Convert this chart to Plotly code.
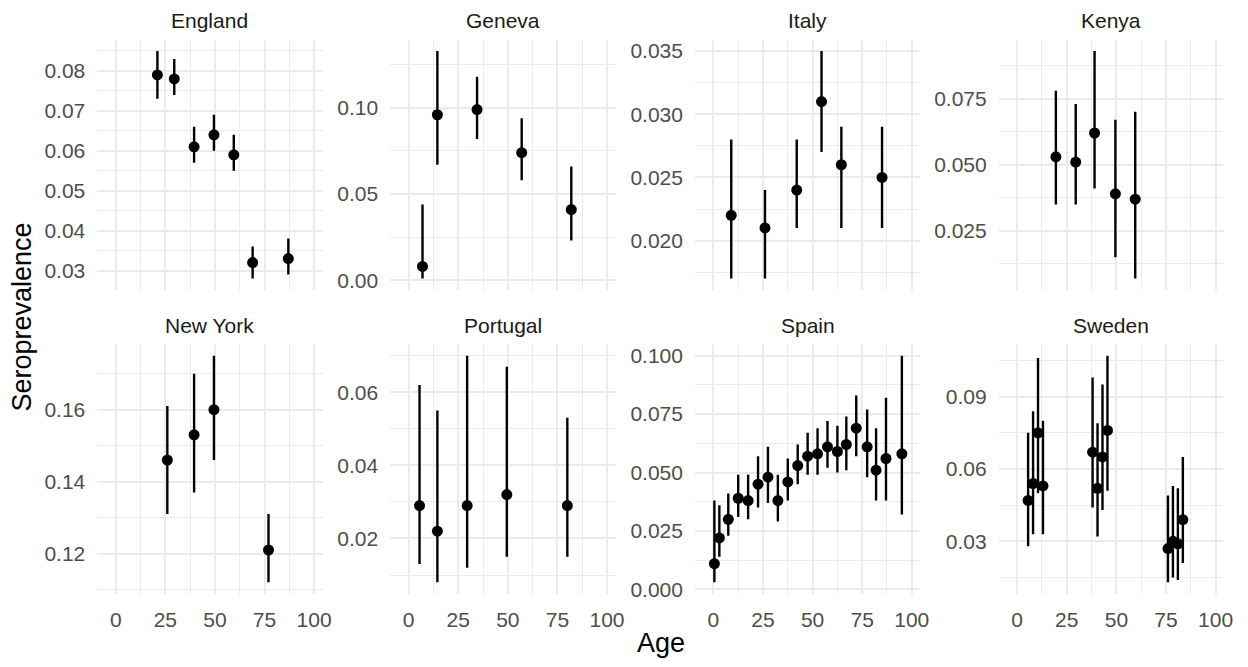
import plotly.graph_objects as go

# ---------------- data ----------------
countries = ["England", "Geneva", "Italy", "Kenya", "New York", "Portugal", "Spain", "Sweden"]

england_age = [21, 29.5, 39.5, 49.5, 59.5, 69, 87]
england_est = [0.079, 0.078, 0.061, 0.064, 0.059, 0.032, 0.033]
england_lo = [0.073, 0.074, 0.057, 0.060, 0.055, 0.028, 0.029]
england_hi = [0.085, 0.083, 0.066, 0.069, 0.064, 0.036, 0.038]

geneva_age = [7, 14.5, 34.5, 57, 82]
geneva_est = [0.008, 0.096, 0.099, 0.074, 0.041]
geneva_lo = [0.001, 0.067, 0.082, 0.058, 0.023]
geneva_hi = [0.044, 0.133, 0.118, 0.094, 0.066]

italy_age = [9, 26, 42, 54.5, 64.5, 85]
italy_est = [0.022, 0.021, 0.024, 0.031, 0.026, 0.025]
italy_lo = [0.017, 0.017, 0.021, 0.027, 0.021, 0.021]
italy_hi = [0.028, 0.024, 0.028, 0.035, 0.029, 0.029]

kenya_age = [19.5, 29.5, 39, 49.5, 59.5]
kenya_est = [0.053, 0.051, 0.062, 0.039, 0.037]
kenya_lo = [0.035, 0.035, 0.041, 0.015, 0.007]
kenya_hi = [0.078, 0.073, 0.093, 0.067, 0.070]

newyork_age = [26, 39.5, 49.5, 77]
newyork_est = [0.146, 0.153, 0.160, 0.121]
newyork_lo = [0.131, 0.137, 0.146, 0.112]
newyork_hi = [0.161, 0.170, 0.175, 0.131]

portugal_age = [5.5, 14.5, 29.5, 49.5, 80]
portugal_est = [0.029, 0.022, 0.029, 0.032, 0.029]
portugal_lo = [0.013, 0.008, 0.012, 0.015, 0.015]
portugal_hi = [0.062, 0.055, 0.070, 0.067, 0.053]

spain_age = [0.5, 3, 7.5, 12.5, 17.5, 22.5, 27.5, 32.5, 37.5, 42.5,
             47.5, 52.5, 57.5, 62.5, 67, 72, 77.5, 82, 87, 95]
spain_est = [0.011, 0.022, 0.030, 0.039, 0.038, 0.045, 0.048, 0.038, 0.046, 0.053,
             0.057, 0.058, 0.061, 0.059, 0.062, 0.069, 0.061, 0.051, 0.056, 0.058]
spain_lo = [0.003, 0.014, 0.023, 0.031, 0.030, 0.035, 0.037, 0.029, 0.038, 0.045,
            0.049, 0.049, 0.052, 0.050, 0.051, 0.057, 0.048, 0.038, 0.038, 0.032]
spain_hi = [0.038, 0.036, 0.041, 0.049, 0.049, 0.057, 0.061, 0.049, 0.056, 0.062,
            0.067, 0.069, 0.072, 0.070, 0.074, 0.083, 0.077, 0.069, 0.082, 0.100]

sweden_age = [5.5, 8, 10.5, 13, 38, 40.5, 43, 45.5, 76, 78.5, 81, 83.5]
sweden_est = [0.047, 0.054, 0.075, 0.053, 0.067, 0.052, 0.065, 0.076, 0.027, 0.030, 0.029, 0.039]
sweden_lo = [0.028, 0.033, 0.050, 0.033, 0.044, 0.032, 0.043, 0.051, 0.013, 0.015, 0.014, 0.021]
sweden_hi = [0.075, 0.084, 0.106, 0.080, 0.098, 0.079, 0.095, 0.107, 0.049, 0.053, 0.052, 0.065]

x_ticks = [0, 25, 50, 75, 100]
x_tick_labels = ["0", "25", "50", "75", "100"]

# y tick spacing / format per panel
y_dtick = [0.01, 0.05, 0.005, 0.025, 0.02, 0.02, 0.025, 0.03]
y_fmt = [".2f", ".2f", ".3f", ".3f", ".2f", ".2f", ".3f", ".2f"]

panels = [
    (england_age, england_est, england_lo, england_hi),
    (geneva_age, geneva_est, geneva_lo, geneva_hi),
    (italy_age, italy_est, italy_lo, italy_hi),
    (kenya_age, kenya_est, kenya_lo, kenya_hi),
    (newyork_age, newyork_est, newyork_lo, newyork_hi),
    (portugal_age, portugal_est, portugal_lo, portugal_hi),
    (spain_age, spain_est, spain_lo, spain_hi),
    (sweden_age, sweden_est, sweden_lo, sweden_hi),
]

# ---------------- layout geometry (pixels) ----------------
W, H = 1248, 667
col_px = [(98, 325), (393, 620), (700, 927), (1006, 1233)]
row_px = [(40, 293), (348, 600)]
x_range = [-9.3, 104.3]

FONT = "Liberation Sans, Arial, sans-serif"
GRID = "#EBEBEB"
TICK_SIZE = 21
TITLE_SIZE = 27

fig = go.Figure()
layout = dict(
    width=W, height=H,
    margin=dict(l=0, r=0, t=0, b=0),
    paper_bgcolor="white", plot_bgcolor="white",
    showlegend=False,
    font=dict(family=FONT, size=TICK_SIZE, color="#4D4D4D"),
)
annotations = []

for i, (name, (age, est, lo, hi)) in enumerate(zip(countries, panels)):
    r, c = divmod(i, 4)
    idx = "" if i == 0 else str(i + 1)
    x0, x1 = col_px[c]
    y0, y1 = row_px[r]

    fig.add_trace(go.Scatter(
        x=age, y=est, mode="markers",
        xaxis="x" + idx, yaxis="y" + idx,
        marker=dict(color="black", size=11),
        error_y=dict(type="data", symmetric=False,
                     array=[h - e for h, e in zip(hi, est)],
                     arrayminus=[e - l for e, l in zip(est, lo)],
                     color="black", thickness=2.4, width=0),
    ))

    span = max(hi) - min(lo)
    y_range = [min(lo) - 0.05 * span, max(hi) + 0.05 * span]
    dt = y_dtick[i]

    layout["xaxis" + idx] = dict(
        domain=[x0 / W, x1 / W], anchor="y" + idx, range=x_range,
        tickvals=x_ticks, ticktext=x_tick_labels,
        showticklabels=(r == 1), ticks="", ticklabelstandoff=11,
        showgrid=True, gridcolor=GRID, gridwidth=2,
        minor=dict(dtick=12.5, tick0=0, showgrid=True, gridcolor=GRID, gridwidth=1),
        zeroline=False, showline=False,
        tickfont=dict(size=TICK_SIZE, color="#4D4D4D"),
    )
    layout["yaxis" + idx] = dict(
        domain=[1 - y1 / H, 1 - y0 / H], anchor="x" + idx, range=y_range,
        dtick=dt, tick0=0, tickformat=y_fmt[i], ticks="", ticklabelstandoff=11,
        showgrid=True, gridcolor=GRID, gridwidth=2,
        minor=dict(dtick=dt / 2, tick0=0, showgrid=True, gridcolor=GRID, gridwidth=1),
        zeroline=False, showline=False,
        tickfont=dict(size=TICK_SIZE, color="#4D4D4D"),
    )
    annotations.append(dict(
        text=name, x=(x0 + x1) / 2 / W, y=1 - (y0 - 19) / H,
        xref="paper", yref="paper", showarrow=False,
        xanchor="center", yanchor="middle",
        font=dict(family=FONT, size=TICK_SIZE, color="#1A1A1A"),
    ))

annotations.append(dict(
    text="Age", x=(98 + 1233) / 2 / W, y=1 - 650 / H, xref="paper", yref="paper",
    showarrow=False, xanchor="center", yanchor="middle",
    font=dict(family=FONT, size=TITLE_SIZE, color="black"),
))
annotations.append(dict(
    text="Seroprevalence", x=22 / W, y=1 - 320 / H, xref="paper", yref="paper",
    showarrow=False, xanchor="center", yanchor="middle", textangle=-90,
    font=dict(family=FONT, size=TITLE_SIZE, color="black"),
))
layout["annotations"] = annotations

fig.update_layout(**layout)
fig.write_html("out.html")
